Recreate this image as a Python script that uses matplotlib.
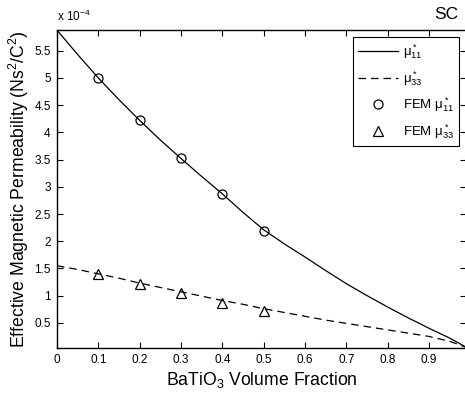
# Effective magnetic permeability of BaTiO3 composite vs volume fraction
import numpy as np
import matplotlib
matplotlib.use('Agg')
import matplotlib.pyplot as plt

plt.rcParams['font.family'] = ['Liberation Sans', 'DejaVu Sans']
plt.rcParams['mathtext.fontset'] = 'custom'
plt.rcParams['mathtext.rm'] = 'Liberation Sans'
plt.rcParams['mathtext.it'] = 'Liberation Sans'

# analytical curves (units of 1e-4 Ns^2/C^2)
frac_curve = [0.0, 0.05, 0.1, 0.15, 0.2, 0.25, 0.3, 0.35, 0.4, 0.45, 0.5,
              0.55, 0.6, 0.65, 0.7, 0.75, 0.8, 0.85, 0.9, 0.95, 0.99]
mu11 = [5.88, 5.43, 5.00, 4.60, 4.22, 3.86, 3.52, 3.19, 2.87, 2.53, 2.21,
        1.95, 1.71, 1.46, 1.22, 1.00, 0.79, 0.59, 0.40, 0.22, 0.05]
mu33 = [1.55, 1.48, 1.40, 1.32, 1.23, 1.15, 1.07, 0.99, 0.91, 0.84, 0.76,
        0.69, 0.62, 0.55, 0.49, 0.43, 0.37, 0.31, 0.25, 0.16, 0.05]

# FEM results
frac_fem = [0.1, 0.2, 0.3, 0.4, 0.5]
fem11 = [5.00, 4.22, 3.53, 2.87, 2.18]
fem33 = [1.39, 1.21, 1.04, 0.87, 0.71]

xticks = [0, 0.1, 0.2, 0.3, 0.4, 0.5, 0.6, 0.7, 0.8, 0.9]
yticks = [0.5, 1, 1.5, 2, 2.5, 3, 3.5, 4, 4.5, 5, 5.5]

fig = plt.figure(figsize=(4.65, 3.96), dpi=100)
ax = fig.add_axes([0.1226, 0.122, 0.88, 0.802])

ax.plot(frac_curve, mu11, '-', color='black', lw=0.9, label=r'$\mu^*_{11}$')
ax.plot(frac_curve, mu33, '--', color='black', lw=0.9, dashes=(6, 4), label=r'$\mu^*_{33}$')
ax.plot(frac_fem, fem11, 'o', mfc='none', mec='black', ms=6.5, mew=0.9, label=r'FEM $\mu^*_{11}$')
ax.plot(frac_fem, fem33, '^', mfc='none', mec='black', ms=7, mew=0.9, label=r'FEM $\mu^*_{33}$')

ax.set_xlim(0, 0.99)
ax.set_ylim(0.043, 5.88)
ax.set_xticks(xticks)
ax.set_xticklabels([f'{t:g}' for t in xticks])
ax.set_yticks(yticks)
ax.set_yticklabels([f'{t:g}' for t in yticks])
ax.tick_params(direction='in', length=4, width=0.8, labelsize=8.5,
               top=True, right=True, pad=4.5)
for s in ax.spines.values():
    s.set_linewidth(1.0)

ax.set_xlabel(r'BaTiO$_3$ Volume Fraction', fontsize=12.7, labelpad=3)
ax.set_ylabel(r'Effective Magnetic Permeability (Ns$^2$/C$^2$)', fontsize=12.7, labelpad=2)

fig.text(0.123, 0.94, r'x 10$^{-4}$', fontsize=8.5, ha='left', va='bottom')
fig.text(0.985, 0.964, 'SC', fontsize=12.5, ha='right', va='center')

leg = ax.legend(loc='upper right', bbox_to_anchor=(0.993, 0.99), fontsize=9.5,
                frameon=True, fancybox=False, edgecolor='black', framealpha=1,
                handlelength=3.0, borderpad=0.4, labelspacing=0.6, handletextpad=0.4,
                borderaxespad=0.3)
leg.get_frame().set_linewidth(0.8)

fig.savefig('out.png', dpi=100)
